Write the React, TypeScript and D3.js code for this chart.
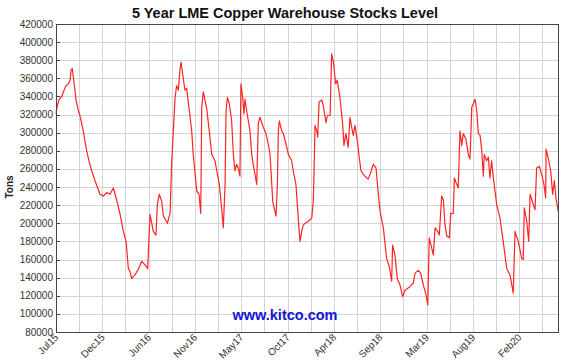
import React from "react";
import * as d3 from "d3";

// weeks since 1 Jul 2015, and LME copper stocks in tonnes
const weeks = [
  0, 0.7, 1.7, 3.0, 3.8, 5.2, 6.4, 7.3, 7.8, 8.4, 9.3, 10.4, 11.6, 12.4, 14.1, 15.9, 17.3, 18.5, 20.2, 22.8,
  24.5, 26.3, 28.0, 29.7, 31.4, 33.2, 34.9, 36.3, 37.5, 38.3, 39.2, 40.9, 42.6, 44.4, 46.1, 47.5, 48.7, 50.4,
  51.8, 52.5, 53.5, 54.8, 55.6, 57.7, 59.1, 59.9, 60.8, 61.7, 62.5, 63.4, 64.2, 64.8, 65.6, 66.8, 67.7, 69.1,
  70.3, 71.1, 72.9, 74.1, 75.0, 75.5, 76.3, 77.2, 78.1, 79.4, 80.7, 82.4, 83.3, 84.6, 85.8, 86.7, 87.6, 88.1,
  88.8, 89.8, 91.0, 91.9, 92.7, 93.6, 94.4, 95.3, 95.8, 96.7, 97.4, 97.9, 98.8, 100.5, 101.4, 102.2, 104.0,
  104.8, 105.7, 107.4, 108.8, 110.0, 110.9, 112.3, 114.0, 114.7, 115.2, 115.7, 116.9, 117.8, 119.2, 120.4,
  122.1, 122.9, 124.3, 125.5, 126.4, 127.3, 128.1, 129.0, 130.7, 132.5, 133.3, 133.7, 134.2, 135.1, 135.6,
  136.3, 137.7, 138.5, 139.9, 140.6, 142.0, 142.8, 143.7, 144.9, 145.7, 147.1, 148.5, 149.2, 150.2, 151.4,
  152.3, 153.2, 154.0, 154.9, 156.1, 157.1, 158.0, 159.2, 161.0, 161.8, 162.7, 164.4, 165.8, 167.0, 167.9,
  169.6, 171.3, 172.7, 173.9, 174.4, 175.6, 176.8, 178.2, 179.6, 180.8, 183.4, 185.1, 186.0, 187.7, 188.9,
  190.3, 191.7, 192.6, 193.4, 194.3, 195.5, 196.4, 197.8, 198.6, 199.8, 200.7, 201.5, 202.4, 203.8, 204.5,
  205.8, 206.4, 207.6, 208.4, 209.3, 210.2, 211.0, 212.4, 213.6, 214.5, 215.4, 216.2, 217.1, 218.0, 218.8,
  219.7, 220.6, 221.4, 221.9, 223.1, 224.0, 224.8, 225.7, 226.6, 228.3, 230.0, 231.7, 233.5, 235.2, 236.9,
  237.8, 239.5, 241.3, 242.1, 242.6, 243.9, 244.9, 245.6, 246.8, 248.2, 249.0, 250.4, 251.6, 252.8, 253.7,
  253.9, 255.1, 256.3, 257.3, 258.2, 259.0, 260.2,
];

const tons = [
  321000, 330000, 337000, 340000, 345000, 352000, 354000, 358000, 369000, 371000, 356000, 336000, 324000,
  319000, 302000, 280000, 267000, 258000, 247000, 232000, 230000, 234000, 232000, 239000, 226000, 210000,
  191000, 180000, 150000, 147000, 139000, 143000, 149000, 158000, 154000, 150000, 210000, 191000, 187000,
  221000, 232000, 224000, 208000, 200000, 211000, 265000, 302000, 339000, 352000, 347000, 369000, 378000,
  365000, 347000, 349000, 324000, 302000, 276000, 236000, 232000, 211000, 328000, 345000, 336000, 326000,
  302000, 276000, 269000, 258000, 243000, 217000, 195000, 243000, 324000, 339000, 332000, 313000, 276000,
  258000, 265000, 261000, 252000, 354000, 339000, 321000, 337000, 324000, 302000, 276000, 265000, 243000,
  310000, 317000, 306000, 299000, 287000, 276000, 224000, 208000, 243000, 302000, 313000, 302000, 299000,
  287000, 276000, 269000, 258000, 243000, 206000, 180000, 191000, 198000, 200000, 202000, 206000, 224000,
  258000, 308000, 302000, 295000, 334000, 336000, 330000, 311000, 319000, 319000, 387000, 378000, 354000,
  358000, 339000, 310000, 286000, 299000, 284000, 317000, 306000, 297000, 308000, 291000, 273000, 258000,
  254000, 250000, 249000, 254000, 265000, 261000, 232000, 213000, 195000, 161000, 152000, 136000, 176000,
  165000, 139000, 132000, 119000, 126000, 130000, 134000, 145000, 148000, 145000, 132000, 121000, 110000,
  184000, 176000, 165000, 195000, 191000, 187000, 230000, 226000, 199000, 186000, 184000, 211000, 211000,
  250000, 243000, 239000, 302000, 286000, 299000, 293000, 276000, 271000, 328000, 332000, 337000, 324000,
  299000, 297000, 280000, 252000, 276000, 269000, 273000, 250000, 269000, 250000, 221000, 206000, 180000,
  150000, 143000, 123000, 191000, 180000, 161000, 160000, 217000, 202000, 180000, 232000, 224000, 215000,
  261000, 263000, 254000, 243000, 228000, 282000, 271000, 258000, 232000, 247000, 228000, 213000,
];

const tickLabels = ["Jul15", "Dec15", "Jun16", "Nov16", "May17", "Oct17", "Apr18", "Sep18", "Mar19", "Aug19", "Feb20"];
const yTicks = d3.range(80000, 420001, 20000);

const W = 570;
const H = 361;
const margin = { top: 24, right: 11, bottom: 29, left: 56 };
const font = "Arial, 'Liberation Sans', sans-serif";

export default function App() {
  const x = d3.scaleLinear().domain([0, 260.6]).range([margin.left, W - margin.right]);
  const y = d3.scaleLinear().domain([80000, 420000]).range([H - margin.bottom, margin.top]);

  const gridWeeks = d3.range(12, 260, 12);
  const labelWeeks = tickLabels.map((_, i) => i * 24);

  const line = d3
    .line<number>()
    .x((_, i) => x(weeks[i]))
    .y((d) => y(d));

  return (
    <svg width={W} height={H} style={{ position: "absolute", left: 0, top: 0, background: "#fff" }} fontFamily={font}>
      <text x={285} y={18} textAnchor="middle" fontSize={14.5} fontWeight="bold" fill="#111">
        5 Year LME Copper Warehouse Stocks Level
      </text>

      {/* grid */}
      <g stroke="#d4d4d4" strokeWidth={1}>
        {yTicks.map((t) => (
          <line key={"h" + t} x1={margin.left} x2={W - margin.right} y1={Math.round(y(t)) + 0.5} y2={Math.round(y(t)) + 0.5} />
        ))}
        {gridWeeks.map((w) => (
          <line key={"v" + w} y1={margin.top} y2={H - margin.bottom} x1={Math.round(x(w)) + 0.5} x2={Math.round(x(w)) + 0.5} />
        ))}
      </g>

      {/* y ticks and labels */}
      <g fontSize={10} fill="#333" textAnchor="end">
        {yTicks.map((t) => (
          <g key={"y" + t}>
            <line x1={margin.left} x2={margin.left + 4} y1={Math.round(y(t)) + 0.5} y2={Math.round(y(t)) + 0.5} stroke="#444" />
            <text x={margin.left - 3} y={y(t) + 3.5}>
              {t}
            </text>
          </g>
        ))}
      </g>

      {/* x labels */}
      <g fontSize={10} fill="#333" textAnchor="end">
        {labelWeeks.map((w, i) => (
          <text key={tickLabels[i]} transform={`translate(${x(w) + 3},${H - margin.bottom + 6}) rotate(-45)`}>
            {tickLabels[i]}
          </text>
        ))}
      </g>

      <text x={285} y={320} textAnchor="middle" fontSize={14.5} fontWeight="bold" fill="#1414d2">
        www.kitco.com
      </text>

      <path d={line(tons) ?? ""} fill="none" stroke="#ff2424" strokeWidth={1.2} strokeLinejoin="round" />

      <rect
        x={margin.left + 0.5}
        y={margin.top + 0.5}
        width={W - margin.right - margin.left - 1}
        height={H - margin.bottom - margin.top}
        fill="none"
        stroke="#444"
      />

      <text transform={`translate(13,${187}) rotate(-90)`} textAnchor="middle" fontSize={10} fontWeight="bold" fill="#222">
        Tons
      </text>
    </svg>
  );
}
